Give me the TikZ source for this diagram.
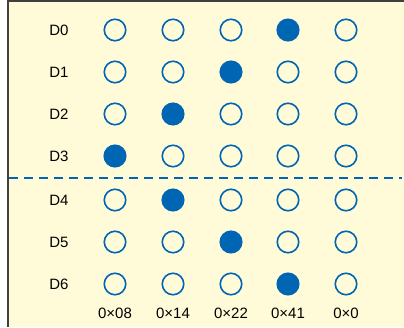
\documentclass[tikz,border=0pt]{standalone}
\usepackage{fontspec}
\setmainfont{Liberation Sans}
\definecolor{cream}{RGB}{255,251,217}
\definecolor{dotblue}{RGB}{0,102,179}
\definecolor{frame}{RGB}{64,64,64}
\begin{document}
\begin{tikzpicture}[x=1pt,y=-1pt,
  dot/.style={circle,draw=dotblue,line width=1.6pt,minimum size=21.5pt,inner sep=0pt},
  on/.style={dot,fill=dotblue},
  off/.style={dot,fill=none},
  lbl/.style={font=\fontsize{15}{16}\selectfont,inner sep=0pt}]
\useasboundingbox (0,0) rectangle (404,327);
\fill[cream] (8,1) rectangle (404,327);
\draw[frame,line width=2pt] (8,327) -- (8,1) -- (404,1);
\draw[dotblue,line width=2pt,dash pattern=on 9pt off 6pt] (9,178) -- (402,178);
\foreach \r/\y/\f in {0/30/4,1/72/3,2/114/2,3/156/1,4/200/2,5/242/3,6/284/4}{
  \node[lbl] (d\r) at (59,\y) {D\r};
  \foreach \c/\x in {1/115,2/173,3/231,4/288,5/346}{
    \ifnum\c=\f
      \node[on] (c\r\c) at (\x,\y) {};
    \else
      \node[off] (c\r\c) at (\x,\y) {};
    \fi
  }
}
\node[lbl] (h1) at (115,313) {0×08};
\node[lbl] (h2) at (173,313) {0×14};
\node[lbl] (h3) at (231,313) {0×22};
\node[lbl] (h4) at (288,313) {0×41};
\node[lbl] (h5) at (346,313) {0×0};
\end{tikzpicture}
\end{document}
